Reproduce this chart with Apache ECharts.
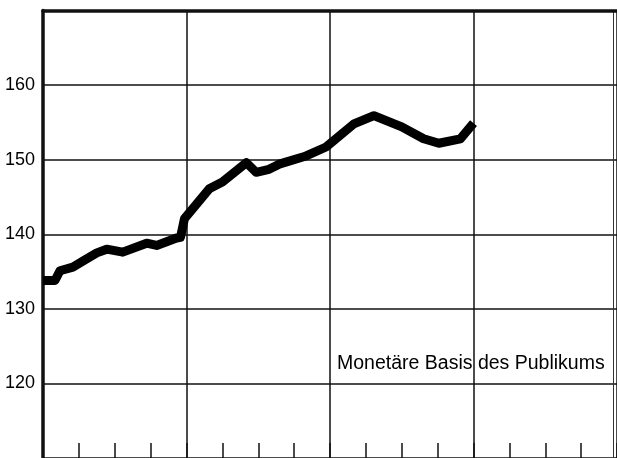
<!DOCTYPE html>
<html>
<head>
<meta charset="utf-8">
<script src="https://cdn.jsdelivr.net/npm/echarts@6/dist/echarts.min.js"></script>
<style>
  html, body { margin: 0; padding: 0; background: #fff; }
  #main { width: 617px; height: 458px; }
</style>
</head>
<body>
<div id="main"></div>
<script>
// month position (0 = start of first year) and index value of the monetary base
const months = [0, 1, 1.42, 2.5, 3.33, 4.5, 5.33, 6.67, 8.67, 9.5, 11.17, 11.5, 11.83,
  13.9, 15, 17, 17.83, 18.9, 19.75, 22, 23.67, 26, 27.67, 30, 31.83, 33.1, 34.9, 36];
const values = [133.8, 133.8, 135.1, 135.6, 136.4, 137.5, 138.0, 137.6, 138.8, 138.5, 139.5, 139.6, 142.1,
  146.1, 147.0, 149.6, 148.3, 148.7, 149.4, 150.5, 151.7, 154.8, 155.9, 154.4, 152.8, 152.2, 152.8, 154.9];
const seriesLabel = "Monetäre Basis des Publikums";

const ink = "#111";
const font = "'Liberation Sans', Arial, sans-serif";

let chart = echarts.init(document.getElementById("main"));

let option = {
  backgroundColor: "#fff",
  animation: false,
  grid: { left: 43, top: 10.5, width: 576, height: 453 },
  xAxis: [
    {
      // year lines
      type: "value", min: 0, max: 48, interval: 12,
      axisLine: { show: false }, axisTick: { show: false }, axisLabel: { show: false },
      splitLine: { show: true, lineStyle: { color: ink, width: 1.5 } },
    },
    {
      // top border
      type: "value", position: "top", min: 0, max: 48, interval: 12,
      axisLine: { show: true, onZero: false, lineStyle: { color: ink, width: 3.5 } },
      axisTick: { show: false }, axisLabel: { show: false }, splitLine: { show: false },
    },
    {
      // quarter ticks along the bottom
      type: "value", position: "bottom", min: 0, max: 48, interval: 3,
      axisLine: { show: false, onZero: false },
      axisTick: { show: true, inside: true, length: 15, lineStyle: { color: ink, width: 1.5 } },
      axisLabel: { show: false }, splitLine: { show: false },
    },
  ],
  yAxis: [
    {
      type: "value", min: 110, max: 170, interval: 10,
      axisLine: { show: true, onZero: false, lineStyle: { color: ink, width: 3.5 } },
      axisTick: { show: false },
      axisLabel: {
        margin: 8, color: "#000", fontSize: 18, fontFamily: font,
        formatter: (v) => (v === 110 || v === 170 ? "" : String(v)),
      },
      splitLine: { show: true, lineStyle: { color: ink, width: 1.5 } },
    },
    {
      // right edge
      type: "value", position: "right", offset: -4, min: 110, max: 170,
      axisLine: { show: true, onZero: false, lineStyle: { color: "#333", width: 1 } },
      axisTick: { show: false }, axisLabel: { show: false }, splitLine: { show: false },
    },
  ],
  series: [
    {
      type: "line",
      xAxisIndex: 0,
      yAxisIndex: 0,
      showSymbol: false,
      data: months.map((m, i) => [m, values[i]]),
      lineStyle: { color: "#000", width: 9, cap: "butt", join: "round" },
    },
  ],
  graphic: [
    {
      type: "text",
      left: 337,
      top: 354,
      style: { text: seriesLabel, fill: "#000", fontSize: 19.5, fontFamily: font },
    },
  ],
};

option && chart.setOption(option);
</script>
</body>
</html>
